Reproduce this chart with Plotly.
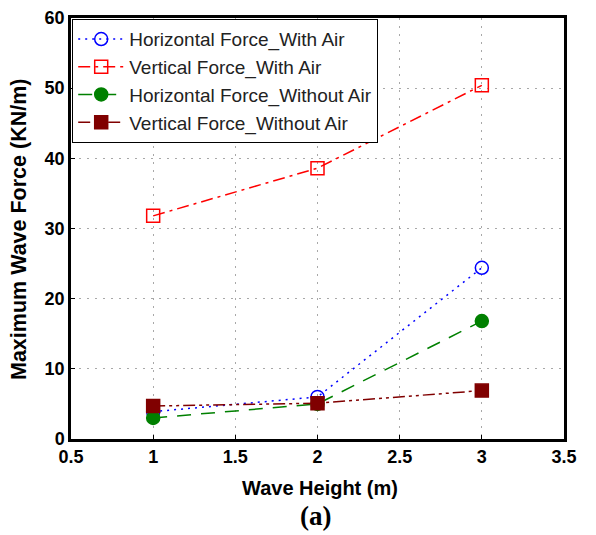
import plotly.graph_objects as go

wave_height = [1, 2, 3]
h_with_air = [3.9, 6.0, 24.4]
v_with_air = [31.8, 38.6, 50.4]
h_without_air = [3.0, 5.0, 16.8]
v_without_air = [4.7, 5.1, 6.9]

series = [
    ("Horizontal Force_With Air", h_with_air, "#0000ff", "2px,5px", "circle-open"),
    ("Vertical Force_With Air", v_with_air, "#ff0000", "12px,5px,3px,5px", "square-open"),
    ("Horizontal Force_Without Air", h_without_air, "#008000", "14px,10px", "circle"),
    ("Vertical Force_Without Air", v_without_air, "#800000", "12px,4px,3px,4px,3px,4px", "square"),
]

fig = go.Figure()
for name, ys, col, dash, sym in series:
    fig.add_trace(go.Scatter(
        x=wave_height, y=ys, name=name, mode="lines+markers",
        line=dict(color=col, dash=dash, width=1.5),
        marker=dict(symbol=sym, size=13, color=col, line=dict(color=col, width=1.5)),
    ))

axis_common = dict(
    showline=True, linecolor="black", linewidth=2.5, mirror=True,
    showgrid=True, gridcolor="#a8a8a8", griddash="2px,6px", gridwidth=1.2,
    ticks="inside", ticklen=4, tickcolor="black", zeroline=False, automargin=False,
    tickfont=dict(family="Arial, Liberation Sans", size=18, color="black", weight="bold"),
)

OFF = 8  # page body offset
PL, PR, PT, PB = 71 - OFF, 564 - OFF, 18 - OFF, 439 - OFF
W, H = 596 - OFF, 535 - OFF

def px_x(p):
    return (p - OFF - PL) / (PR - PL)

def px_y(p):
    return (PB - (p - OFF)) / (PB - PT)

fig.update_layout(
    width=W, height=H,
    margin=dict(l=PL, r=W - PR, t=PT, b=H - PB),
    plot_bgcolor="white", paper_bgcolor="white",
    font=dict(family="Arial, Liberation Sans", color="black"),
    xaxis=dict(range=[0.5, 3.5], dtick=0.5, **axis_common),
    yaxis=dict(range=[0, 60], dtick=10, **axis_common),
    legend=dict(x=px_x(72), y=px_y(19), xanchor="left", yanchor="top",
                bgcolor="white", bordercolor="black", borderwidth=1.2,
                font=dict(size=19, color="#222"), tracegroupgap=0, itemwidth=46),
    showlegend=True,
    annotations=[
        dict(text="<b>Wave Height (m)</b>", x=px_x(320), y=px_y(488), xref="paper", yref="paper",
             showarrow=False, xanchor="center", yanchor="middle",
             font=dict(family="Arial, Liberation Sans", size=20, color="black")),
        dict(text="<b>Maximum Wave Force (KN/m)</b>", x=px_x(19), y=px_y(230), xref="paper", yref="paper",
             showarrow=False, xanchor="center", yanchor="middle", textangle=-90,
             font=dict(family="Arial, Liberation Sans", size=21.5, color="black")),
        dict(text="<b>(a)</b>", x=px_x(315), y=px_y(516), xref="paper", yref="paper",
             showarrow=False, xanchor="center", yanchor="middle",
             font=dict(family="Liberation Serif, Times New Roman", size=27, color="black")),
    ],
)

fig.write_html("out.html")
